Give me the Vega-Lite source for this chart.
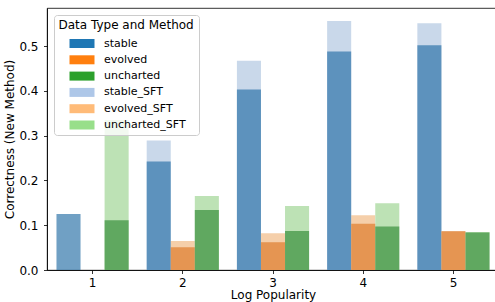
{
  "$schema": "https://vega.github.io/schema/vega-lite/v6.json",
  "width": 452,
  "height": 262,
  "autosize": {"type": "none"},
  "padding": {"left": 47, "top": 8, "right": 0, "bottom": 32},
  "config": {
    "font": "DejaVu Sans",
    "view": {"stroke": "black", "strokeWidth": 0.8},
    "axis": {
      "labelFont": "DejaVu Sans", "titleFont": "DejaVu Sans",
      "labelFontSize": 12, "titleFontSize": 12, "titleFontWeight": "normal",
      "labelColor": "black", "titleColor": "black",
      "domainColor": "black", "domainWidth": 0.8,
      "tickColor": "black", "tickWidth": 0.8, "tickSize": 3.5,
      "grid": false
    }
  },
  "datasets": {
    "base": [
      {"pop": "1", "type": "stable", "series": "stable", "value": 0.125},
      {"pop": "1", "type": "uncharted", "series": "uncharted", "value": 0.111},
      {"pop": "2", "type": "stable", "series": "stable", "value": 0.242},
      {"pop": "2", "type": "evolved", "series": "evolved", "value": 0.051},
      {"pop": "2", "type": "uncharted", "series": "uncharted", "value": 0.134},
      {"pop": "3", "type": "stable", "series": "stable", "value": 0.403},
      {"pop": "3", "type": "evolved", "series": "evolved", "value": 0.062},
      {"pop": "3", "type": "uncharted", "series": "uncharted", "value": 0.087},
      {"pop": "4", "type": "stable", "series": "stable", "value": 0.488},
      {"pop": "4", "type": "evolved", "series": "evolved", "value": 0.103},
      {"pop": "4", "type": "uncharted", "series": "uncharted", "value": 0.097},
      {"pop": "5", "type": "stable", "series": "stable", "value": 0.502},
      {"pop": "5", "type": "evolved", "series": "evolved", "value": 0.087},
      {"pop": "5", "type": "uncharted", "series": "uncharted", "value": 0.084}
    ],
    "sft": [
      {"pop": "1", "type": "uncharted", "series": "uncharted_SFT", "value": 0.335},
      {"pop": "2", "type": "stable", "series": "stable_SFT", "value": 0.289},
      {"pop": "2", "type": "evolved", "series": "evolved_SFT", "value": 0.065},
      {"pop": "2", "type": "uncharted", "series": "uncharted_SFT", "value": 0.165},
      {"pop": "3", "type": "stable", "series": "stable_SFT", "value": 0.467},
      {"pop": "3", "type": "evolved", "series": "evolved_SFT", "value": 0.082},
      {"pop": "3", "type": "uncharted", "series": "uncharted_SFT", "value": 0.143},
      {"pop": "4", "type": "stable", "series": "stable_SFT", "value": 0.556},
      {"pop": "4", "type": "evolved", "series": "evolved_SFT", "value": 0.122},
      {"pop": "4", "type": "uncharted", "series": "uncharted_SFT", "value": 0.149},
      {"pop": "5", "type": "stable", "series": "stable_SFT", "value": 0.551},
      {"pop": "5", "type": "evolved", "series": "evolved_SFT", "value": 0.085},
      {"pop": "5", "type": "uncharted", "series": "uncharted_SFT", "value": 0.085}
    ]
  },
  "encoding": {
    "x": {
      "field": "pop", "type": "ordinal",
      "scale": {"domain": ["1", "2", "3", "4", "5"], "paddingInner": 0.2, "paddingOuter": 0.105},
      "axis": {"title": "Log Popularity", "labelAngle": 0, "labelPadding": 3.5, "titlePadding": 1.5}
    },
    "xOffset": {
      "field": "type", "type": "nominal",
      "scale": {"domain": ["stable", "evolved", "uncharted"], "paddingInner": 0, "paddingOuter": 0}
    },
    "y": {
      "field": "value", "type": "quantitative",
      "scale": {"domain": [0, 0.585], "nice": false, "zero": true},
      "axis": {"title": "Correctness (New Method)", "values": [0, 0.1, 0.2, 0.3, 0.4, 0.5], "format": ".1f", "labelPadding": 5.5, "titlePadding": 2.5}
    }
  },
  "layer": [
    {
      "data": {"name": "sft"},
      "mark": {"type": "bar"},
      "encoding": {
        "fill": {
          "field": "series", "type": "nominal", "legend": null,
          "scale": {"domain": ["stable_SFT", "evolved_SFT", "uncharted_SFT"], "range": ["#c9d8ea", "#f5cfaa", "#bde2b5"]}
        }
      }
    },
    {
      "data": {"name": "base"},
      "mark": {"type": "bar"},
      "encoding": {
        "fill": {
          "field": "series", "type": "nominal", "legend": null,
          "scale": {"domain": ["stable", "evolved", "uncharted"], "range": ["#236da4", "#dc7723", "#2e8932"]}
        },
        "fillOpacity": {"value": 0.65}
      }
    },
    {
      "data": {"name": "base"},
      "mark": {"type": "bar", "opacity": 0},
      "encoding": {
        "color": {
          "field": "series", "type": "nominal",
          "scale": {
            "domain": ["stable", "evolved", "uncharted", "stable_SFT", "evolved_SFT", "uncharted_SFT"],
            "range": ["#1f77b4", "#ff7f0e", "#2ca02c", "#aec7e8", "#ffbb78", "#98df8a"]
          },
          "legend": {
            "title": "Data Type and Method",
            "orient": "none", "legendX": 7, "legendY": 7,
            "titleFontSize": 12, "titleFontWeight": "normal", "titleColor": "black", "titlePadding": 6.5,
            "labelFontSize": 11, "labelColor": "black", "labelOffset": 16.5,
            "symbolType": "M-2.5,-0.9H2.5V0.9H-2.5Z", "symbolSize": 100,
            "symbolOpacity": 1, "symbolStrokeWidth": 0,
            "symbolOffset": 18, "rowPadding": 4.3,
            "padding": 4.5,
            "fillColor": "rgba(255,255,255,0.8)", "strokeColor": "#cccccc", "cornerRadius": 3
          }
        }
      }
    }
  ],
  "resolve": {"scale": {"fill": "independent"}}
}
